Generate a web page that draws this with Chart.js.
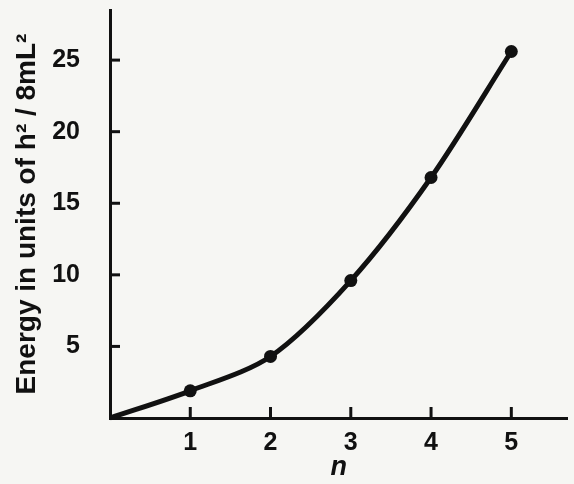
<!DOCTYPE html>
<html>
<head>
<meta charset="utf-8">
<script src="https://cdn.jsdelivr.net/npm/chart.js@4"></script>
<style>
  html, body { margin: 0; padding: 0; background: #f6f6f3; }
  #wrap { width: 574px; height: 484px; }
</style>
</head>
<body>
<div id="wrap"><canvas id="chart"></canvas></div>
<script>
// energy levels
const nValues = [0, 1, 2, 3, 4, 5];
const energyValues = [0, 1.9, 4.3, 9.6, 16.8, 25.6];
const xTickValues = [1, 2, 3, 4, 5];
const yTickValues = [5, 10, 15, 20, 25];

const ink = '#111111';
const fontFam = '"Liberation Sans", Arial, sans-serif';

// small inward tick marks, like the printed figure
const inwardTicks = {
    id: 'inwardTicks',
    afterDraw(chart) {
        const ctx = chart.ctx;
        const xs = chart.scales.x, ys = chart.scales.y;
        const y0 = ys.getPixelForValue(0);
        const x0 = xs.getPixelForValue(0);
        ctx.save();
        ctx.strokeStyle = ink;
        ctx.lineWidth = 3;
        xTickValues.forEach(v => {
            const px = xs.getPixelForValue(v);
            ctx.beginPath();
            ctx.moveTo(px, y0);
            ctx.lineTo(px, y0 - 11);
            ctx.stroke();
        });
        yTickValues.forEach(v => {
            const py = ys.getPixelForValue(v);
            ctx.beginPath();
            ctx.moveTo(x0, py);
            ctx.lineTo(x0 + 10, py);
            ctx.stroke();
        });
        ctx.restore();
    }
};

new Chart(document.getElementById('chart'), {
    type: 'scatter',
    data: {
        datasets: [{
            data: nValues.map((n, i) => ({ x: n, y: energyValues[i] })),
            showLine: true,
            borderColor: ink,
            borderWidth: 5,
            backgroundColor: ink,
            pointRadius: nValues.map(n => n === 0 ? 0 : 6.5),
            pointBackgroundColor: ink,
            pointBorderWidth: 0,
            tension: 0.3
        }]
    },
    options: {
        responsive: true,
        maintainAspectRatio: false,
        animation: false,
        clip: false,
        layout: { padding: { top: 10, right: 0, left: 0, bottom: 0 } },
        plugins: {
            legend: { display: false },
            tooltip: { enabled: false }
        },
        scales: {
            x: {
                type: 'linear',
                min: 0,
                max: 5.7,
                afterBuildTicks: s => { s.ticks = xTickValues.map(v => ({ value: v })); },
                afterFit: s => { s.height = 66; s.paddingLeft = 0; s.paddingRight = 0; },
                grid: { display: false },
                border: { display: true, color: ink, width: 3 },
                ticks: {
                    color: ink,
                    padding: 2,
                    font: { family: fontFam, size: 25, weight: 'bold' }
                },
                title: {
                    display: true,
                    text: 'n',
                    color: ink,
                    padding: 0,
                    font: { family: fontFam, size: 27, style: 'italic', weight: 'bold' }
                }
            },
            y: {
                min: 0,
                max: 28.5,
                afterBuildTicks: s => { s.ticks = yTickValues.map(v => ({ value: v })); },
                afterFit: s => { s.width = 110; s.paddingTop = 0; s.paddingBottom = 0; },
                grid: { display: false },
                border: { display: true, color: ink, width: 3 },
                ticks: {
                    color: ink,
                    padding: 22,
                    font: { family: fontFam, size: 25, weight: 'bold' }
                },
                title: {
                    display: true,
                    text: 'Energy in units of h² / 8mL²',
                    color: ink,
                    padding: { top: 10, bottom: 0 },
                    font: { family: fontFam, size: 28, weight: 'bold' }
                }
            }
        }
    },
    plugins: [inwardTicks]
});
</script>
</body>
</html>
